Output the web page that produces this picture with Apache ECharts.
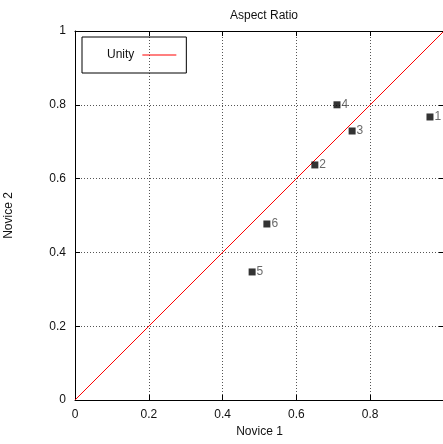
<!DOCTYPE html>
<html><head><meta charset="utf-8">
<script src="https://cdn.jsdelivr.net/npm/echarts@6/dist/echarts.min.js"></script>
<style>html,body{margin:0;padding:0;background:#fff}#c{width:443px;height:444px}</style>
</head><body><div id="c"></div>
<script>
const pointNames = ['1', '2', '3', '4', '5', '6'];
const novice1 = [0.962, 0.650, 0.751, 0.710, 0.480, 0.520];
const novice2 = [0.767, 0.637, 0.729, 0.800, 0.347, 0.477];
const unityX = [0, 1];
const unityY = [0, 1];

const font = "'Liberation Sans', Arial, sans-serif";
const chart = echarts.init(document.getElementById('c'), null, {renderer: 'canvas'});
const gridLine = {show: true, lineStyle: {color: '#555', type: [1, 2], width: 1}};
const txt = {fontFamily: font, fontSize: 12, color: '#111'};
chart.setOption({
  animation: false,
  title: {text: 'Aspect Ratio', left: 259, textAlign: 'center', top: 5,
    textStyle: Object.assign({fontWeight: 'normal'}, txt)},
  legend: {
    left: 82, top: 37, orient: 'vertical', align: 'right',
    data: ['Unity'], icon: 'rect', itemWidth: 34, itemHeight: 1, itemGap: 0,
    itemStyle: {color: '#ff0000'},
    borderColor: '#000', borderWidth: 1, borderRadius: 0,
    padding: [11, 10, 11, 25],
    textStyle: Object.assign({lineHeight: 14, padding: [0, 3, 0, 0]}, txt)
  },
  grid: {left: 75, top: 31, width: 369, height: 369, containLabel: false, outerBoundsMode: 'none'},
  xAxis: [{
    type: 'value', min: 0, max: 1, interval: 0.2,
    axisLine: {show: true, onZero: false, lineStyle: {color: '#000', width: 1}},
    axisTick: {show: true, inside: true, length: 5, lineStyle: {color: '#000'}},
    axisLabel: Object.assign({margin: 9, showMaxLabel: false,
      formatter: v => String(+v.toFixed(1))}, txt),
    splitLine: gridLine,
    name: 'Novice 1', nameLocation: 'middle', nameGap: 25,
    nameTextStyle: txt
  }, {
    type: 'value', min: 0, max: 1, interval: 0.2, position: 'top',
    axisLine: {show: true, onZero: false, lineStyle: {color: '#000', width: 1}},
    axisTick: {show: true, inside: true, length: 5, lineStyle: {color: '#000'}},
    axisLabel: {show: false}, splitLine: {show: false}
  }],
  yAxis: [{
    type: 'value', min: 0, max: 1, interval: 0.2,
    axisLine: {show: true, onZero: false, lineStyle: {color: '#000', width: 1}},
    axisTick: {show: true, inside: true, length: 5, lineStyle: {color: '#000'}},
    axisLabel: Object.assign({margin: 9,
      formatter: v => String(+v.toFixed(1))}, txt),
    splitLine: gridLine,
    name: 'Novice 2', nameLocation: 'middle', nameGap: 60, nameRotate: 90,
    nameTextStyle: txt
  }, {
    type: 'value', min: 0, max: 1, interval: 0.2, position: 'right',
    axisLine: {show: true, onZero: false, lineStyle: {color: '#000', width: 1}},
    axisTick: {show: true, inside: true, length: 5, lineStyle: {color: '#000'}},
    axisLabel: {show: false}, splitLine: {show: false}
  }],
  series: [{
    name: 'Unity', type: 'line', showSymbol: false, symbol: 'none',
    data: unityX.map((x, i) => [x, unityY[i]]),
    lineStyle: {color: '#ff0000', width: 1}, itemStyle: {color: '#ff0000'}, z: 3
  }, {
    name: 'points', type: 'scatter', symbol: 'rect', symbolSize: 7,
    data: novice1.map((x, i) => ({value: [x, novice2[i]], name: pointNames[i]})),
    itemStyle: {color: '#000'},
    label: {show: true, position: 'right', distance: 1, formatter: p => p.name,
      fontFamily: font, fontSize: 12, color: '#444'}, z: 4
  }]
});
</script></body></html>
